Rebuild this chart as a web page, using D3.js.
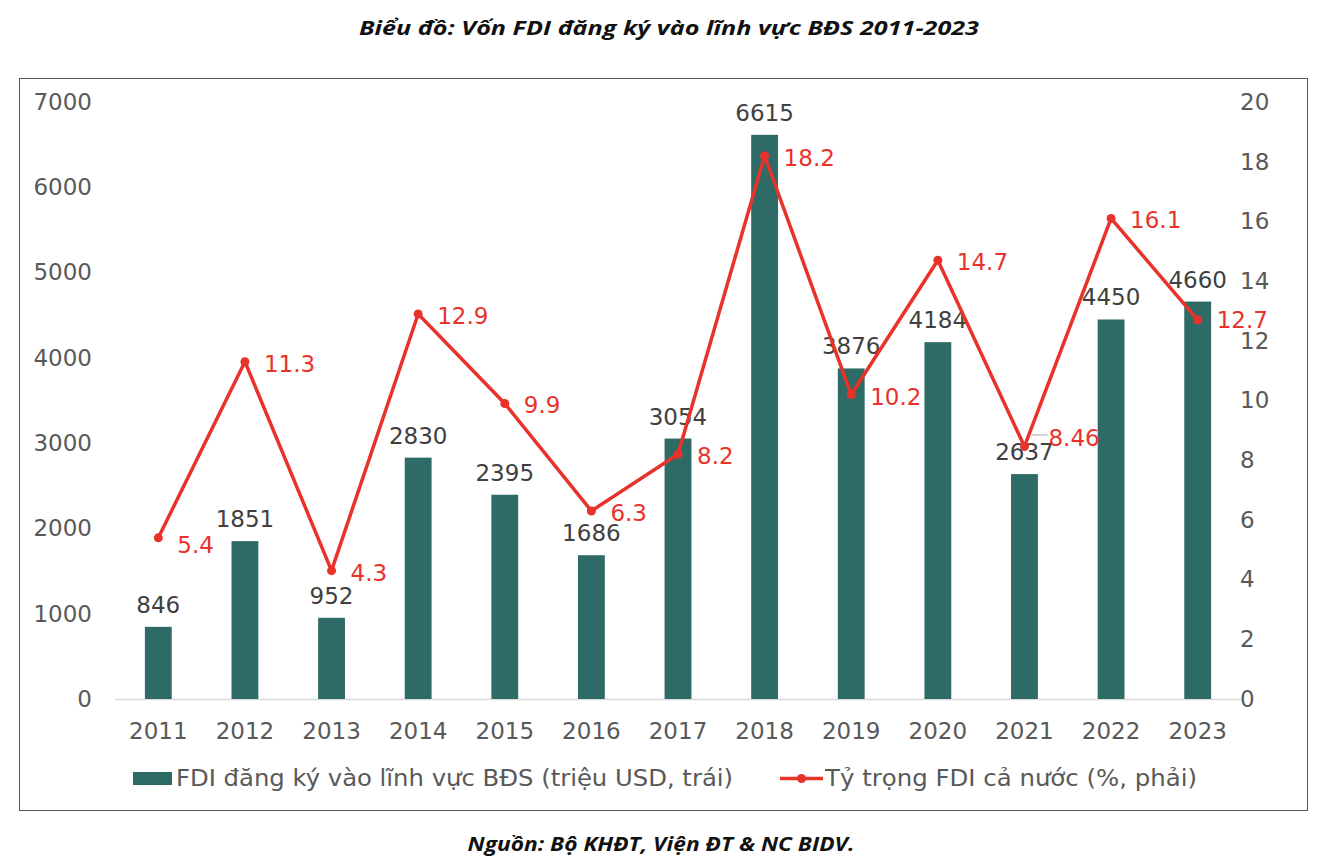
<!DOCTYPE html>
<html><head><meta charset="utf-8">
<script src="https://cdn.jsdelivr.net/npm/d3@7/dist/d3.min.js"></script>
<style>body{margin:0;background:#fff}svg{display:block}
.v{font-family:"DejaVu Sans",Verdana,sans-serif}
.t{font-family:"Open Sans",sans-serif;font-weight:bold;font-style:italic}
</style>
</head><body>
<svg id="c" width="1338" height="862"></svg>
<script>
const years = ["2011","2012","2013","2014","2015","2016","2017","2018","2019","2020","2021","2022","2023"];
const fdiValues = [846,1851,952,2830,2395,1686,3054,6615,3876,4184,2637,4450,4660];
const shareValues = [5.4,11.3,4.3,12.9,9.9,6.3,8.2,18.2,10.2,14.7,8.46,16.1,12.7];
const leftTicks = [0,1000,2000,3000,4000,5000,6000,7000];
const rightTicks = [0,2,4,6,8,10,12,14,16,18,20];
const titleText = "Biểu đồ: Vốn FDI đăng ký vào lĩnh vực BĐS 2011-2023";
const sourceText = "Nguồn: Bộ KHĐT, Viện ĐT & NC BIDV.";
const legendBar = "FDI đăng ký vào lĩnh vực BĐS (triệu USD, trái)";
const legendLine = "Tỷ trọng FDI cả nước (%, phải)";

const svg = d3.select("#c");
const barColor = "#2E6B67", red = "#E8322A", gray = "#595959";
const fs = 23;

svg.append("rect").attr("x",19.5).attr("y",78.5).attr("width",1288).attr("height",732)
  .attr("fill","none").attr("stroke","#555").attr("stroke-width",1);

svg.append("text").attr("class","t").attr("x",669).attr("y",35).attr("text-anchor","middle")
  .attr("font-size",20).attr("fill","#111").attr("textLength",620).attr("lengthAdjust","spacingAndGlyphs").text(titleText);
svg.append("text").attr("class","t").attr("x",661).attr("y",851).attr("text-anchor","middle")
  .attr("font-size",19).attr("fill","#111").attr("textLength",387).attr("lengthAdjust","spacingAndGlyphs").text(sourceText);

const x = d3.scaleBand().domain(years).range([115,1241]).paddingInner(0.69).paddingOuter(0.345);
const yL = d3.scaleLinear().domain([0,7000]).range([699,102]);
const yR = d3.scaleLinear().domain([0,20]).range([699,102]);

const axL = svg.append("g").attr("transform","translate(92,0)")
  .call(d3.axisLeft(yL).tickValues(leftTicks).tickFormat(d3.format("d")).tickSize(0).tickPadding(0));
const axR = svg.append("g").attr("transform","translate(1240,0)")
  .call(d3.axisRight(yR).tickValues(rightTicks).tickFormat(d3.format("d")).tickSize(0).tickPadding(0));
const axB = svg.append("g").attr("transform","translate(0,699)")
  .call(d3.axisBottom(x).tickSize(0).tickPadding(24));
[axL,axR,axB].forEach(a=>{
  a.select(".domain").remove();
  a.selectAll("text").attr("class","v").attr("font-family",null).attr("font-size",fs).attr("fill",gray);
});
svg.append("line").attr("x1",115).attr("x2",1241).attr("y1",699.5).attr("y2",699.5)
  .attr("stroke","#d9d9d9").attr("stroke-width",1.5);

svg.append("g").selectAll("rect").data(years).join("rect")
  .attr("x",d=>x(d)).attr("width",x.bandwidth())
  .attr("y",(d,i)=>yL(fdiValues[i])).attr("height",(d,i)=>yL(0)-yL(fdiValues[i]))
  .attr("fill",barColor);

svg.append("g").selectAll("text").data(years).join("text").attr("class","v")
  .attr("x",(d)=>x(d)+x.bandwidth()/2)
  .attr("y",(d,i)=>yL(fdiValues[i])-14)
  .attr("text-anchor","middle").attr("font-size",fs)
  .attr("fill","#404040").text((d,i)=>fdiValues[i]);

const cx = d=>x(d)+x.bandwidth()/2;
svg.append("path").datum(years)
  .attr("d",d3.line().x(d=>cx(d)).y((d,i)=>yR(shareValues[i])))
  .attr("fill","none").attr("stroke",red).attr("stroke-width",3.5).attr("stroke-linejoin","round");
svg.append("g").selectAll("circle").data(years).join("circle")
  .attr("cx",cx).attr("cy",(d,i)=>yR(shareValues[i])).attr("r",4.5).attr("fill",red);

const lineNudge = {"2011":[0,5],"2021":[5,-10],"2023":[0,-2]};
svg.append("g").selectAll("text").data(years).join("text").attr("class","v")
  .attr("x",d=>cx(d)+19+((lineNudge[d]||[0,0])[0]))
  .attr("y",(d,i)=>yR(shareValues[i])+10+((lineNudge[d]||[0,0])[1]))
  .attr("font-size",fs).attr("fill",red)
  .text((d,i)=>shareValues[i]);
svg.append("line").attr("x1",cx("2021")+7).attr("x2",cx("2021")+23)
  .attr("y1",yR(8.46)-11.5).attr("y2",yR(8.46)-11.5).attr("stroke","#aaa").attr("stroke-width",1);

svg.append("rect").attr("x",133).attr("y",772).attr("width",39).attr("height",13).attr("fill",barColor);
svg.append("text").attr("class","v").attr("x",176).attr("y",786).attr("font-size",fs)
  .attr("textLength",557).attr("lengthAdjust","spacingAndGlyphs")
  .attr("fill",gray).text(legendBar);
svg.append("line").attr("x1",780).attr("x2",823).attr("y1",778.5).attr("y2",778.5)
  .attr("stroke",red).attr("stroke-width",3.5);
svg.append("circle").attr("cx",801.5).attr("cy",778.5).attr("r",4.5).attr("fill",red);
svg.append("text").attr("class","v").attr("x",825).attr("y",786).attr("font-size",fs)
  .attr("textLength",372).attr("lengthAdjust","spacingAndGlyphs")
  .attr("fill",gray).text(legendLine);
</script>
</body></html>
